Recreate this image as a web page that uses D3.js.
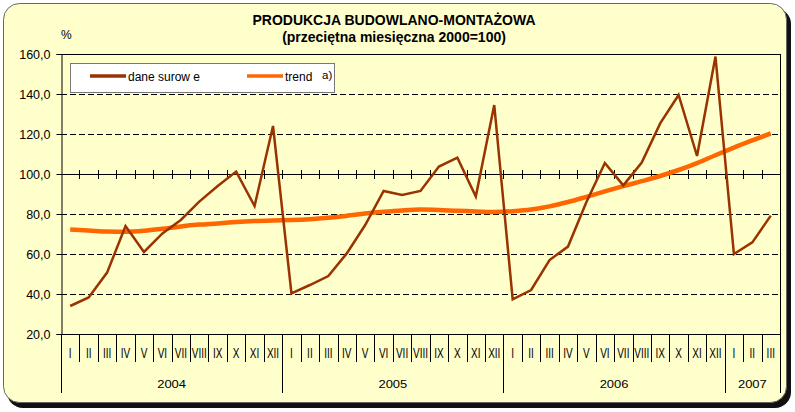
<!DOCTYPE html>
<html><head><meta charset="utf-8">
<script src="https://cdn.jsdelivr.net/npm/d3@7"></script>
<style>html,body{margin:0;padding:0;background:#fff}svg{display:block;font-family:"Liberation Sans",Arial,sans-serif}</style>
</head><body><svg id="c" width="795" height="412"></svg>
<script>
const monthLabels = ["I","II","III","IV","V","VI","VII","VIII","IX","X","XI","XII"];
const years = ["2004","2005","2006","2007"];
const monthsPerYear = [12,12,12,3];
const raw2004 = [34.0, 38.3, 50.7, 74.0, 61.0, 70.3, 77.0, 86.2, 94.0, 101.2, 84.0, 124.0];
const raw2005 = [40.3, 44.5, 49.0, 60.3, 74.5, 91.5, 89.5, 91.5, 103.7, 108.2, 88.7, 134.5];
const raw2006 = [37.3, 42.0, 57.0, 63.7, 86.0, 105.5, 94.3, 105.7, 125.3, 139.5, 109.0, 158.7];
const raw2007 = [60.0, 65.8, 79.2];
const trend2004 = [72.3, 71.8, 71.2, 71.1, 71.6, 72.6, 73.8, 74.7, 75.3, 76.0, 76.5, 76.8];
const trend2005 = [77.0, 77.4, 78.1, 79.1, 80.2, 81.1, 81.8, 82.2, 82.0, 81.6, 81.3, 81.0];
const trend2006 = [81.4, 82.2, 83.8, 86.0, 88.6, 91.3, 93.9, 96.4, 99.0, 102.0, 105.4, 109.4];
const trend2007 = [113.2, 116.8, 120.3];
const yTicks = [20, 40, 60, 80, 100, 120, 140, 160];
const titleLines = ["PRODUKCJA BUDOWLANO-MONTAŻOWA", "(przeciętna miesięczna 2000=100)"];
const legendNames = ["dane surow e", "trend"];

const rawValues = [].concat(raw2004, raw2005, raw2006, raw2007);
const trendValues = [].concat(trend2004, trend2005, trend2006, trend2007);
const categories = [];
years.forEach((yr, i) => { for (let k = 0; k < monthsPerYear[i]; k++) categories.push({id: yr + "-" + k, year: yr, month: monthLabels[k]}); });

const svg = d3.select("#c");
const L = 61, R = 780, T = 54, B = 334;
const x = d3.scaleBand().domain(categories.map(d => d.id)).range([L, R]).padding(0);
const y = d3.scaleLinear().domain([20, 160]).range([B, T]);
const bw = x.bandwidth();
const cx = i => x(categories[i].id) + bw / 2;
const edge = i => i < categories.length ? x(categories[i].id) : R;

// frame
svg.append("rect").attr("x", 7).attr("y", 8).attr("width", 784).attr("height", 400).attr("rx", 16).attr("fill", "#111");
svg.append("rect").attr("x", 3.5).attr("y", 3.5).attr("width", 783).attr("height", 399).attr("rx", 16)
  .attr("fill", "#FFFFCC").attr("stroke", "#666").attr("stroke-width", 1);

// title
svg.append("text").attr("x", 394).attr("y", 25).attr("text-anchor", "middle").attr("font-size", 14).attr("font-weight", "bold").text(titleLines[0]);
svg.append("text").attr("x", 394).attr("y", 42).attr("text-anchor", "middle").attr("font-size", 14).attr("font-weight", "bold").text(titleLines[1]);
svg.append("text").attr("x", 61).attr("y", 39).attr("font-size", 12).text("%");

// gridlines
const g = svg.append("g");
yTicks.forEach(v => {
  const yy = Math.round(y(v)) + 0.5;
  const solid = (v === 20 || v === 100 || v === 160);
  g.append("line").attr("x1", L).attr("x2", R).attr("y1", yy).attr("y2", yy)
    .attr("stroke", "#000").attr("stroke-width", 1).attr("stroke-dasharray", solid ? null : "6,3");
});
// right border
g.append("line").attr("x1", R + 0.5).attr("x2", R + 0.5).attr("y1", T).attr("y2", B).attr("stroke", "#000");

// y axis
const yAxis = d3.axisLeft(y).tickValues(yTicks).tickSize(5).tickPadding(6)
  .tickFormat(d => d3.format(".1f")(d).replace(".", ","));
const ya = svg.append("g").attr("transform", `translate(${L + 0.5},0)`).call(yAxis);
ya.selectAll("text").attr("font-size", 12.5).attr("font-family", "Liberation Sans, Arial, sans-serif").attr("fill", "#000");
ya.selectAll("line,path").attr("stroke", "#000");

// cross ticks on the 100 axis
const y100 = Math.round(y(100));
for (let i = 1; i < categories.length; i++) {
  const xx = Math.round(edge(i)) + 0.5;
  svg.append("line").attr("x1", xx).attr("x2", xx).attr("y1", y100 - 4).attr("y2", y100 + 5).attr("stroke", "#000");
}

// category label area
for (let i = 0; i <= categories.length; i++) {
  const xx = Math.round(edge(i)) + 0.5;
  const isYear = i === 0 || i === categories.length || categories[i].month === "I";
  svg.append("line").attr("x1", xx).attr("x2", xx).attr("y1", B).attr("y2", isYear ? 393 : 362).attr("stroke", "#000");
}
categories.forEach((c, i) => {
  svg.append("text").attr("transform", `translate(${cx(i)},358) scale(1,1.5)`).attr("text-anchor", "middle")
    .attr("font-size", 10).text(c.month);
});
let start = 0;
years.forEach((yr, i) => {
  const a = edge(start), b = edge(start + monthsPerYear[i]);
  svg.append("text").attr("transform", `translate(${(a + b) / 2},388) scale(1.3,1)`).attr("text-anchor", "middle")
    .attr("font-size", 10).text(yr);
  start += monthsPerYear[i];
});

// lines
const lineRaw = d3.line().x((d, i) => cx(i)).y(d => y(d));
const lineTrend = d3.line().x((d, i) => cx(i)).y(d => y(d)).curve(d3.curveMonotoneX);
svg.append("path").datum(trendValues).attr("d", lineTrend).attr("fill", "none").attr("stroke", "#FF6600").attr("stroke-width", 4.5).attr("stroke-linejoin", "round");
svg.append("path").datum(rawValues).attr("d", lineRaw).attr("fill", "none").attr("stroke", "#993300").attr("stroke-width", 2.5);

// legend
const lg = svg.append("g");
lg.append("rect").attr("x", 70.5).attr("y", 63.5).attr("width", 264).attr("height", 29).attr("fill", "#fff").attr("stroke", "#777");
lg.append("line").attr("x1", 90).attr("x2", 126).attr("y1", 76).attr("y2", 76).attr("stroke", "#993300").attr("stroke-width", 3.5);
lg.append("text").attr("x", 128).attr("y", 81).attr("font-size", 12).text(legendNames[0]);
lg.append("line").attr("x1", 247).attr("x2", 283).attr("y1", 76).attr("y2", 76).attr("stroke", "#FF6600").attr("stroke-width", 3.5);
lg.append("text").attr("x", 285).attr("y", 81).attr("font-size", 12).text(legendNames[1]);
lg.append("text").attr("x", 322).attr("y", 79).attr("font-size", 11.5).text("a)");
</script>
</body></html>
